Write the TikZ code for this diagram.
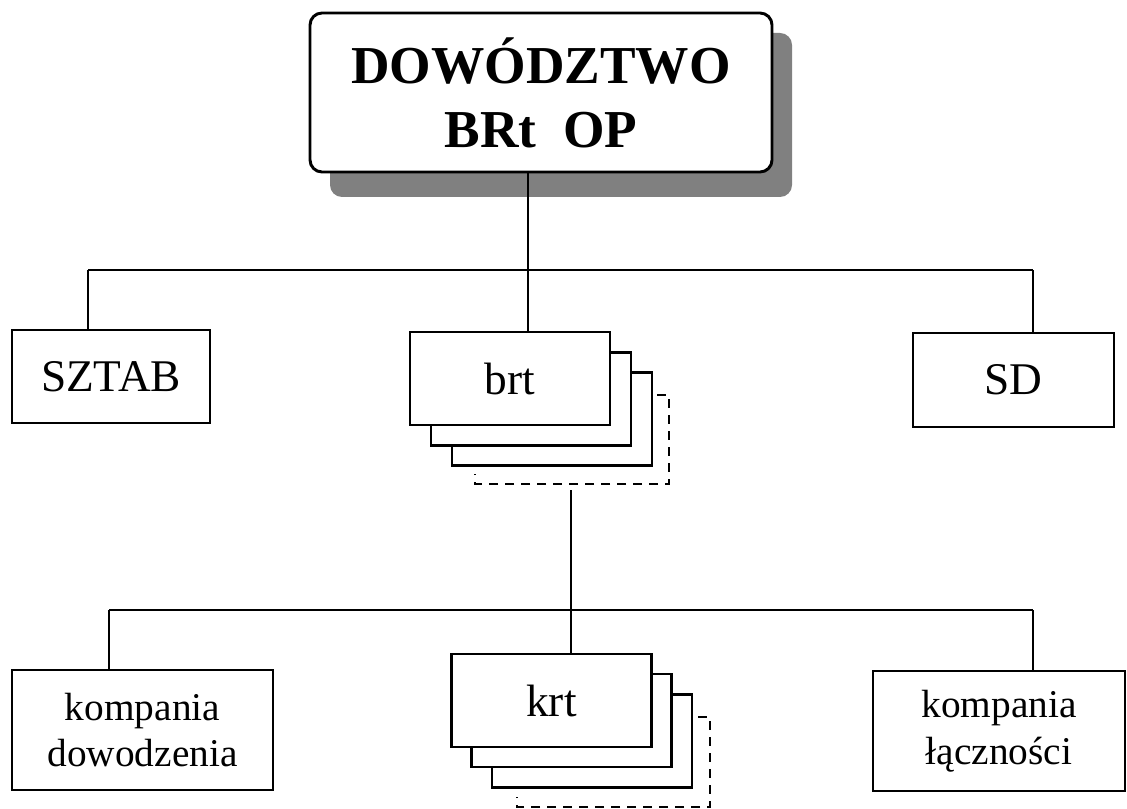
\documentclass[tikz,border=0pt]{standalone}
\usepackage{fontspec}
\setmainfont{Liberation Serif}
\usetikzlibrary{calc}
\begin{document}
\begin{tikzpicture}[x=0.75pt,y=-0.75pt,
  conn/.style={line width=2pt},
  unitbox/.style={draw,line width=2.2pt,fill=white,inner sep=0pt,align=center},
  stackbox/.style={unitbox,minimum width=150pt,minimum height=69.75pt},
  dashline/.style={line width=1.1pt,dash pattern=on 7pt off 5pt},
  shadowbox/.style={fill=black!50,rounded corners=9pt},
  txt/.style={font=\fontsize{34}{40}\selectfont},
  smalltxt/.style={font=\fontsize{29.5}{35}\selectfont}]
\useasboundingbox (0,0) rectangle (1127,809);
% top command box with shadow
\fill[shadowbox] (330,33) rectangle (792,197);
\node[unitbox,rounded corners=9pt,minimum width=346.5pt,minimum height=119.25pt,
  font=\bfseries\fontsize{40}{48}\selectfont] (top) at (541,92.5) {DOWÓDZTWO\\BRt\ \ OP};
% level 1
\node[unitbox,txt,minimum width=148.5pt,minimum height=69.75pt] (sztab) at (111,376.5) {SZTAB};
\node[unitbox,txt,minimum width=150.75pt,minimum height=70.5pt] (sd) at (1013.5,380) {SD};
\node[stackbox] (brt3) at (552,419) {};
\node[stackbox] (brt2) at (531,399) {};
\node[stackbox,txt] (brt) at (510,378.5) {brt};
\draw[dashline] (657,395) -- (669,395) -- (669,484) -- (475,484) -- (475,474);
% level 2
\node[unitbox,smalltxt,minimum width=195.75pt,minimum height=90pt] (kd) at (142.5,730) {kompania\\dowodzenia};
\node[unitbox,smalltxt,minimum width=189pt,minimum height=90pt] (kl) at (999,731) {kompania\\łączności};
\node[stackbox] (krt3) at (592,741) {};
\node[stackbox] (krt2) at (571.5,720.5) {};
\node[stackbox,txt] (krt) at (551.5,700.5) {krt};
\draw[dashline] (698,717) -- (710,717) -- (710,807) -- (517,807) -- (517,797);
% connectors level 1
\coordinate (b1L) at (88,270);
\coordinate (b1M) at (528,270);
\coordinate (b1R) at (1033,270);
\draw[conn] (b1L) -- (b1R);
\draw[conn] (b1L) -- (sztab.north -| b1L);
\draw[conn] (b1R) -- (sd.north -| b1R);
\draw[conn] (top.south -| b1M) -- (brt.north -| b1M);
% connectors level 2
\coordinate (brtdrop) at (571,490);
\coordinate (b2L) at (109,610);
\coordinate (b2M) at (571,610);
\coordinate (b2R) at (1033,610);
\draw[conn] (b2L) -- (b2R);
\draw[conn] (b2L) -- (kd.north -| b2L);
\draw[conn] (b2R) -- (kl.north -| b2R);
\draw[conn] (brtdrop) -- (krt.north -| brtdrop);
\end{tikzpicture}
\end{document}
